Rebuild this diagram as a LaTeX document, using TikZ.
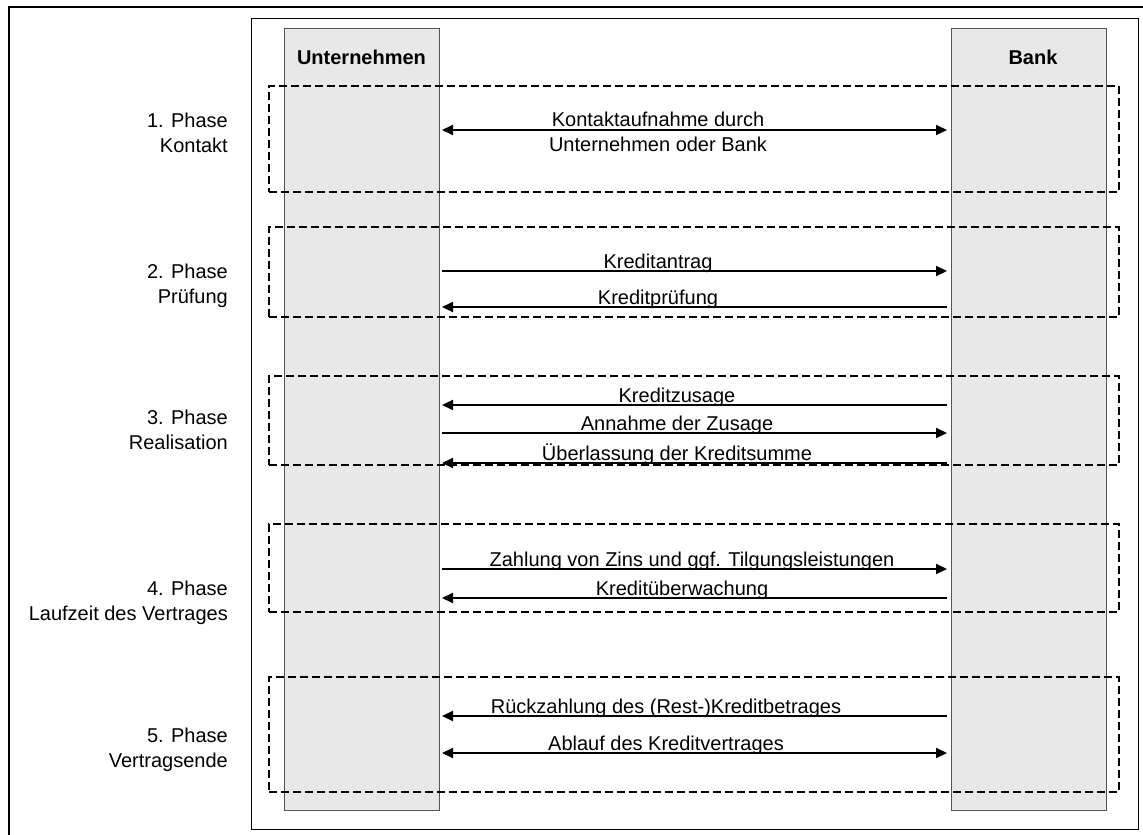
\documentclass[tikz,border=0pt]{standalone}
\usepackage{fontspec}
\setmainfont{Liberation Sans}
\usetikzlibrary{arrows.meta}
\definecolor{colfill}{HTML}{E8E8E8}
\definecolor{colline}{HTML}{555555}
\begin{document}
\begin{tikzpicture}[x=1pt,y=-1pt,
  font=\fontsize{20}{25}\selectfont,
  lane/.style={draw=colline, line width=1pt, fill=colfill, inner sep=0pt, anchor=north west},
  phasebox/.style={draw=black, line width=2pt, dash pattern=on 8pt off 4pt, inner sep=0pt, anchor=north west},
  msg/.style={line width=2pt, -{Triangle[length=11pt,width=10pt]}},
  both/.style={line width=2pt, {Triangle[length=11pt,width=10pt]}-{Triangle[length=11pt,width=10pt]}},
  lbl/.style={anchor=base, inner sep=0pt, align=center},
  phaselbl/.style={anchor=base east, inner sep=0pt, align=right},
  head/.style={anchor=base, inner sep=0pt, font=\fontsize{20}{25}\selectfont\bfseries}]
\useasboundingbox (0,0) rectangle (1143,835);
% outer and inner frames
\draw[line width=2.5pt] (9,835) -- (9,7) -- (1143,7);
\node[draw=black, line width=1pt, inner sep=0pt, anchor=north west, minimum width=887pt, minimum height=811pt] (frame) at (251,18) {};
% lanes
\node[lane, minimum width=155pt, minimum height=782pt] (colU) at (284,28) {};
\node[lane, minimum width=155pt, minimum height=782pt] (colB) at (951,28) {};
\node[head] (hU) at (361.5,64) {Unternehmen};
\node[head] (hB) at (1033,64) {Bank};
% phase boxes
\node[phasebox, minimum width=850pt, minimum height=106pt] (p1) at (268,85) {};
\node[phasebox, minimum width=850pt, minimum height=90pt] (p2) at (268,226) {};
\node[phasebox, minimum width=850pt, minimum height=89pt] (p3) at (268,375) {};
\node[phasebox, minimum width=850pt, minimum height=88pt] (p4) at (268,523) {};
\node[phasebox, minimum width=850pt, minimum height=115pt] (p5) at (268,676) {};
% phase labels (anchor = baseline of the last line)
\node[phaselbl] (l1) at (228,152) {1. Phase\\Kontakt};
\node[phaselbl] (l2) at (228,303) {2. Phase\\Prüfung};
\node[phaselbl] (l3) at (228,449) {3. Phase\\Realisation};
\node[phaselbl] (l4) at (228,620) {4. Phase\\Laufzeit des Vertrages};
\node[phaselbl] (l5) at (228,767) {5. Phase\\Vertragsende};
% arrow end points
\foreach \n/\y in {1/130,2/271,3/307,4/405,5/433,6/463,7/569,8/598,9/716,10/753}{
  \coordinate (u\n) at (442,\y);
  \coordinate (b\n) at (947,\y);
}
% messages
\draw[both] (u1) -- (b1);
\draw[msg] (u2) -- (b2);
\draw[msg] (b3) -- (u3);
\draw[msg] (b4) -- (u4);
\draw[msg] (u5) -- (b5);
\draw[msg] (b6) -- (u6);
\draw[msg] (u7) -- (b7);
\draw[msg] (b8) -- (u8);
\draw[msg] (b9) -- (u9);
\draw[both] (u10) -- (b10);
% message labels
\node[lbl] (t1) at (658,151) {Kontaktaufnahme durch\\Unternehmen oder Bank};
\node[lbl] (t2) at (658,268) {Kreditantrag};
\node[lbl] (t3) at (658,304) {Kreditprüfung};
\node[lbl] (t4) at (677,402) {Kreditzusage};
\node[lbl] (t5) at (677,430) {Annahme der Zusage};
\node[lbl] (t6) at (677,460) {Überlassung der Kreditsumme};
\node[lbl] (t7) at (692,566) {Zahlung von Zins und ggf. Tilgungsleistungen};
\node[lbl] (t8) at (682,595) {Kreditüberwachung};
\node[lbl] (t9) at (666,713) {Rückzahlung des (Rest-)Kreditbetrages};
\node[lbl] (t10) at (666,750) {Ablauf des Kreditvertrages};
\end{tikzpicture}
\end{document}
